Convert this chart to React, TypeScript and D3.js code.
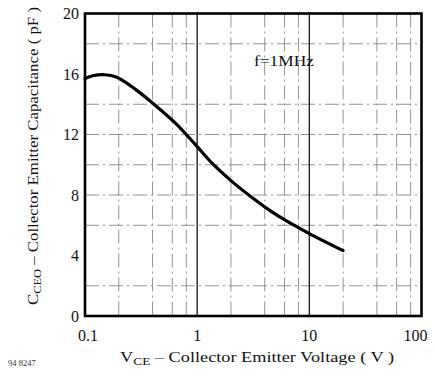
import React from "react";
import * as d3 from "d3";

const voltage = [0.1, 0.12, 0.15, 0.19, 0.28, 0.42, 0.64, 0.96, 1.38, 2.0, 3.0, 4.5, 6.2, 10, 20];
const capacitance = [15.7, 15.9, 15.95, 15.8, 15.0, 13.95, 12.75, 11.35, 10.05, 8.95, 7.9, 6.95, 6.3, 5.45, 4.32];

const xTicks = [0.1, 1, 10, 100];
const xTickLabels = ["0.1", "1", "10", "100"];
const yTicks = [0, 4, 8, 12, 16, 20];
const xMajorGrid = [1, 10];
const xMinorGrid = [0.2, 0.4, 0.6, 0.8, 2, 4, 6, 8, 20, 40, 60, 80];
const yGrid = [2, 6, 8, 10, 12, 14, 18];

const W = 436, H = 376;
const L = 85, R = 421.5, T = 13.5, B = 316;
const FONT = "'Liberation Serif', 'Times New Roman', serif";

export default function App() {
  const x = d3.scaleLog().domain([0.1, 100]).range([L, R]);
  const y = d3.scaleLinear().domain([0, 20]).range([B, T]);
  const pts = voltage.map((v, i) => [v, capacitance[i]] as [number, number]);
  const path = d3.line<[number, number]>()
    .x(d => x(d[0]))
    .y(d => y(d[1]))
    .curve(d3.curveCatmullRom.alpha(0.5))(pts) || "";

  return (
    <svg width={W} height={H} style={{ position: "absolute", left: 0, top: 0, background: "#fff" }}
      fontFamily={FONT}>
      <rect x={0} y={0} width={W} height={H} fill="#fff" />
      {xMinorGrid.map(v => (
        <line key={"xm" + v} x1={x(v)} x2={x(v)} y1={T} y2={B}
          stroke="#888" strokeWidth={0.9} strokeDasharray="14 4 2 4" />
      ))}
      {yGrid.map(v => (
        <line key={"yg" + v} x1={L} x2={R} y1={y(v)} y2={y(v)}
          stroke="#888" strokeWidth={0.9} strokeDasharray="14 4 2 4" />
      ))}
      {xMajorGrid.map(v => (
        <line key={"xM" + v} x1={x(v)} x2={x(v)} y1={T} y2={B}
          stroke="#222" strokeWidth={1.4} />
      ))}
      <rect x={L} y={T} width={R - L} height={B - T} fill="none" stroke="#000" strokeWidth={2.6} />
      <path d={path} fill="none" stroke="#000" strokeWidth={3.2} strokeLinecap="round" />
      {yTicks.map(v => (
        <text key={"yt" + v} x={79} y={y(v)} dy="0.35em" textAnchor="end" fontSize={16} fill="#111">{v}</text>
      ))}
      {xTicks.map((v, i) => (
        <text key={"xt" + v} x={i === 3 ? x(v) - 6 : i === 0 ? x(v) + 3 : x(v)} y={341} textAnchor="middle"
          fontSize={16} fill="#111">{xTickLabels[i]}</text>
      ))}
      <text x={284} y={66} textAnchor="middle" fontSize={15} textLength={60} lengthAdjust="spacingAndGlyphs" fill="#111">f=1MHz</text>
      <text x={257} y={362} textAnchor="middle" fontSize={15} textLength={274} lengthAdjust="spacingAndGlyphs" fill="#111">
        V<tspan fontSize={11} dy={3}>CE</tspan><tspan dy={-3}> – Collector Emitter Voltage ( V )</tspan>
      </text>
      <text transform={`translate(38,156) rotate(-90)`} textAnchor="middle" fontSize={15} textLength={298} lengthAdjust="spacingAndGlyphs" fill="#111">
        C<tspan fontSize={11} dy={3}>CEO</tspan><tspan dy={-3}> – Collector Emitter Capacitance ( pF )</tspan>
      </text>
      <text x={8} y={366} fontSize={8.5} fill="#333">94 8247</text>
    </svg>
  );
}
